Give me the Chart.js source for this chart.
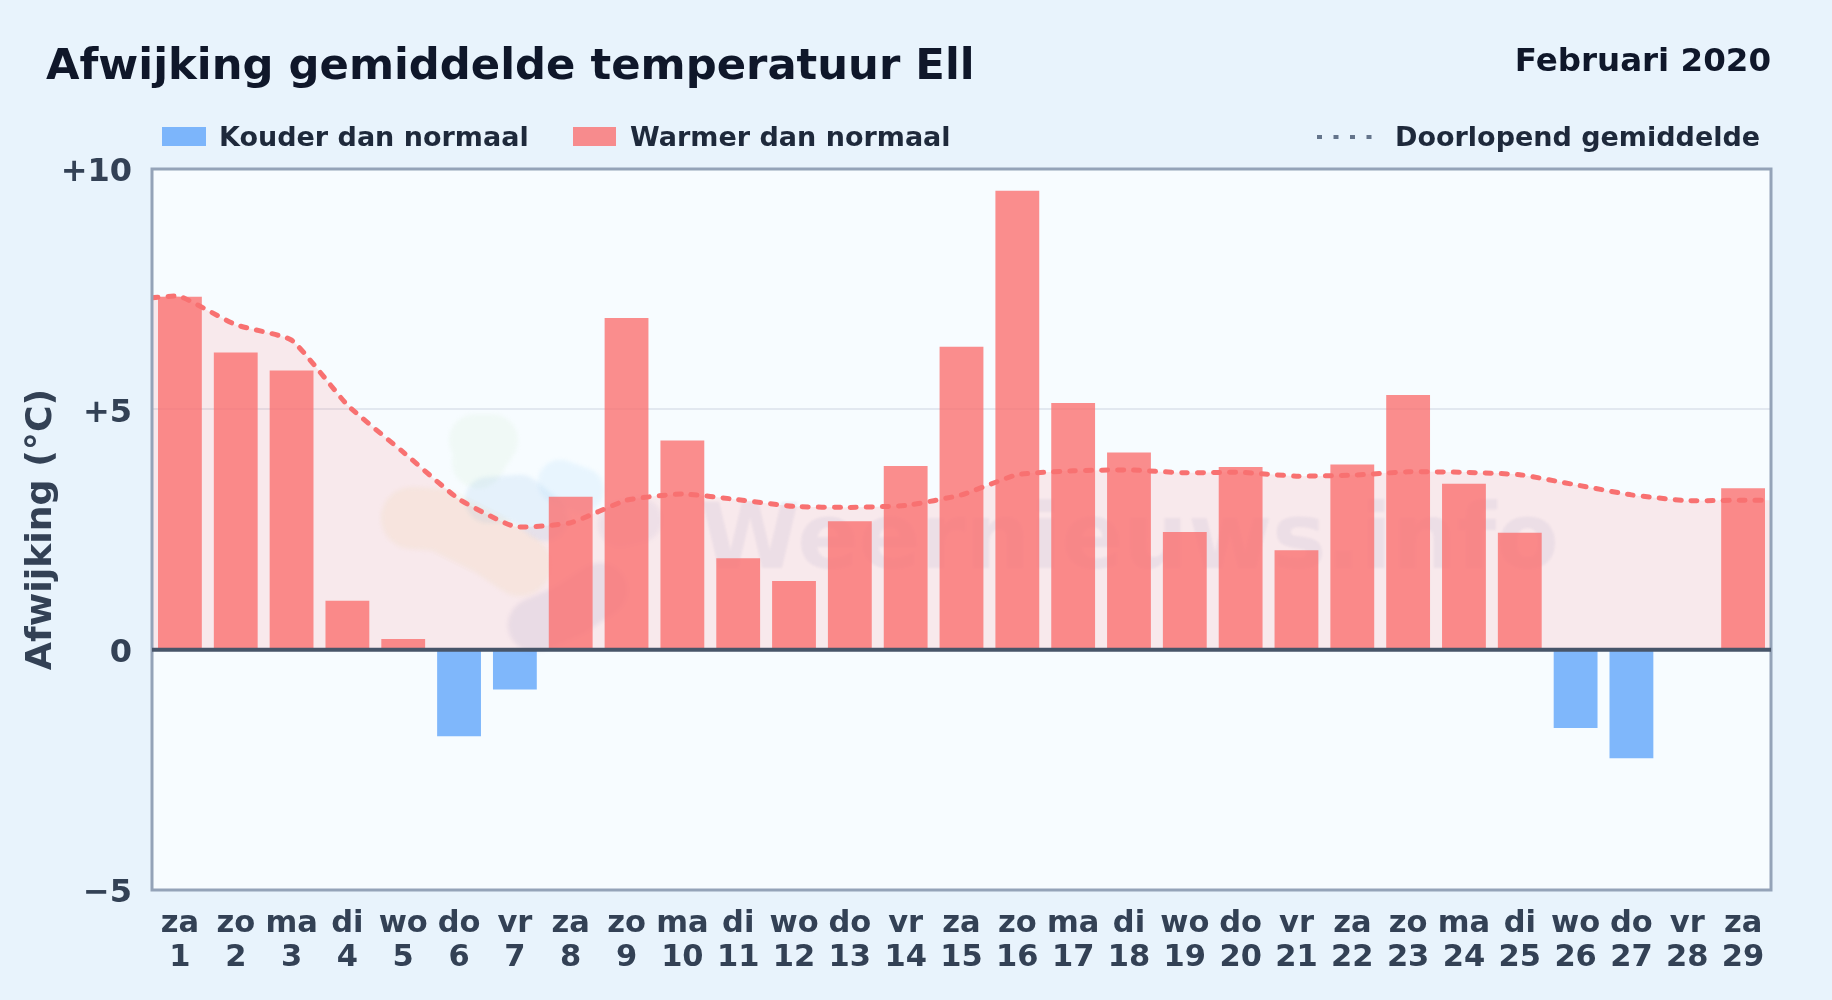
<!DOCTYPE html>
<html>
<head>
<meta charset="utf-8">
<title>Afwijking gemiddelde temperatuur Ell</title>
<script src="https://cdn.jsdelivr.net/npm/chart.js@4"></script>
<style>
html,body{margin:0;padding:0;background:#e8f3fc;}
canvas{display:block;}
</style>
</head>
<body>
<canvas id="grafiek" width="1832" height="1000"></canvas>
<script>
const dagen = ["za","zo","ma","di","wo","do","vr","za","zo","ma","di","wo","do","vr","za","zo","ma","di","wo","do","vr","za","zo","ma","di","wo","do","vr","za"];
const dagNummers = ["1","2","3","4","5","6","7","8","9","10","11","12","13","14","15","16","17","18","19","20","21","22","23","24","25","26","27","28","29"];
const afwijking = [7.34,6.18,5.81,1.02,0.22,-1.8,-0.83,3.18,6.9,4.35,1.9,1.43,2.67,3.82,6.3,9.55,5.13,4.1,2.45,3.8,2.07,3.85,5.3,3.45,2.43,-1.63,-2.26,0,3.36];
const lijnDagen = [0.5,1,2,3,4,5,6,7,8,9,10,11,12,13,14,15,16,17,18,19,20,21,22,23,24,25,26,27,28,29,29.5];
const lijnWaarden = [7.32,7.35,6.76,6.44,5.09,4.11,3.13,2.56,2.64,3.11,3.24,3.12,2.98,2.96,3.0,3.22,3.64,3.72,3.74,3.68,3.69,3.61,3.63,3.7,3.69,3.64,3.43,3.22,3.1,3.11,3.11];
const yTicks = [-5,0,5,10];
const yTickLabels = ["\u22125","0","+5","+10"];

const FONT = '"DejaVu Sans"';
const warmKleur = "rgba(250,113,113,0.8)";
const koudKleur = "rgba(96,165,250,0.8)";

// watermerk onder de balken
const watermerk = {
  id: "watermerk",
  beforeDatasetsDraw(chart) {
    const c = chart.ctx;
    c.save();
    c.lineCap = "round";
    c.lineJoin = "round";
    c.filter = "blur(2px)";
    function blob(kleur, dikte, punten) {
      c.strokeStyle = kleur;
      c.lineWidth = dikte;
      c.beginPath();
      punten.forEach((p, i) => i ? c.lineTo(p[0], p[1]) : c.moveTo(p[0], p[1]));
      c.stroke();
    }
    blob("rgba(190,230,170,0.1)", 52, [[475,440],[492,440],[478,462]]);
    blob("rgba(120,180,225,0.14)", 46, [[488,500],[520,498],[545,518]]);
    blob("rgba(140,205,250,0.14)", 44, [[560,482],[582,490]]);
    blob("rgba(240,200,130,0.13)", 62, [[412,518],[440,520],[490,545],[520,565]]);
    blob("rgba(110,100,170,0.1)", 54, [[535,625],[570,610],[600,590]]);
    blob("rgba(110,100,170,0.07)", 44, [[620,525],[640,520]]);
    c.filter = "blur(1px)";
    c.fillStyle = "rgba(90,90,150,0.07)";
    c.font = "bold 91px " + FONT;
    c.textAlign = "left";
    c.textBaseline = "alphabetic";
    c.fillText("Weernieuws.info", 700, 568);
    c.restore();
  }
};

// titel, legenda, kader en nullijn
const opmaak = {
  id: "opmaak",
  beforeDraw(chart) {
    const c = chart.ctx, a = chart.chartArea;
    c.save();
    c.fillStyle = "#f7fcff";
    c.fillRect(a.left, a.top, a.right - a.left, a.bottom - a.top);
    c.restore();
    // tick labels van de y-as staan iets lager
    if (!chart.$labelsVerschoven) {
      chart.scales.y.getLabelItems(a).forEach(it => { it.textOffset += 4; });
      chart.$labelsVerschoven = true;
    }
  },
  afterDatasetsDraw(chart) {
    const c = chart.ctx, a = chart.chartArea;
    const nul = chart.scales.y.getPixelForValue(0);
    c.save();
    c.strokeStyle = "#94a3b8";
    c.lineWidth = 3;
    c.strokeRect(a.left, a.top, a.right - a.left, a.bottom - a.top);
    c.strokeStyle = "#475569";
    c.lineWidth = 4;
    c.beginPath();
    c.moveTo(a.left, nul);
    c.lineTo(a.right, nul);
    c.stroke();

    c.textBaseline = "alphabetic";
    c.textAlign = "left";
    c.fillStyle = "#0f172a";
    c.font = "bold 43.3px " + FONT;
    c.fillText("Afwijking gemiddelde temperatuur Ell", 46, 79);
    c.textAlign = "right";
    c.font = "bold 32.5px " + FONT;
    c.fillText("Februari 2020", 1771, 71);

    c.textAlign = "left";
    c.textBaseline = "middle";
    c.font = "bold 27px " + FONT;
    c.fillStyle = koudKleur;
    c.fillRect(162, 127, 44, 19);
    c.fillStyle = warmKleur;
    c.fillRect(573, 127, 43, 19);
    c.fillStyle = "#1e293b";
    c.fillText(chart.data.datasets[0].label, 219, 139);
    c.fillText(chart.data.datasets[1].label, 630, 139);
    c.fillText(chart.data.datasets[2].label, 1395, 139);
    c.strokeStyle = "#64748b";
    c.lineWidth = 4;
    c.setLineDash([5, 11.5]);
    c.beginPath();
    c.moveTo(1317, 137);
    c.lineTo(1375, 137);
    c.stroke();
    c.restore();
  }
};

new Chart(document.getElementById("grafiek"), {
  data: {
    labels: dagen.map((d, i) => [d, dagNummers[i]]),
    datasets: [
      {
        type: "bar",
        label: "Kouder dan normaal",
        data: afwijking.map(v => v < 0 ? v : null),
        backgroundColor: koudKleur,
        grouped: false,
        barPercentage: 0.785,
        categoryPercentage: 1,
        order: 2
      },
      {
        type: "bar",
        label: "Warmer dan normaal",
        data: afwijking.map(v => v > 0 ? v : null),
        backgroundColor: warmKleur,
        grouped: false,
        barPercentage: 0.785,
        categoryPercentage: 1,
        order: 2
      },
      {
        type: "line",
        label: "Doorlopend gemiddelde",
        xAxisID: "xLijn",
        data: lijnDagen.map((d, i) => ({x: d, y: lijnWaarden[i]})),
        borderColor: "rgba(248,113,113,1)",
        borderWidth: 5,
        borderDash: [6, 10],
        borderCapStyle: "round",
        backgroundColor: "rgba(255,100,100,0.125)",
        fill: "origin",
        pointRadius: 0,
        tension: 0.15,
        order: 1
      }
    ]
  },
  plugins: [watermerk, opmaak],
  options: {
    responsive: false,
    animation: false,
    devicePixelRatio: 1,
    layout: { padding: { top: 169, right: 61, left: 0, bottom: 0 } },
    plugins: {
      legend: { display: false },
      tooltip: { enabled: false },
      filler: { drawTime: "beforeDatasetsDraw" }
    },
    scales: {
      x: {
        type: "category",
        grid: { display: false },
        border: { display: false },
        ticks: {
          color: "#334155",
          font: { family: FONT, size: 30.5, weight: "bold", lineHeight: 1.11 },
          padding: 9,
          maxRotation: 0,
          autoSkip: false
        },
        afterFit(s) { s.height = 110; }
      },
      xLijn: { type: "linear", display: false, min: 0.5, max: 29.5 },
      y: {
        min: -5,
        max: 10,
        afterBuildTicks(s) { s.ticks = yTicks.map(v => ({value: v})); },
        afterFit(s) { s.width = 152; },
        grid: { color: "#e2e8f0", lineWidth: 2, drawTicks: false },
        border: { display: false },
        ticks: {
          color: "#334155",
          font: { family: FONT, size: 32, weight: "bold" },
          padding: 20,
          callback(v) { return yTickLabels[yTicks.indexOf(v)]; }
        },
        title: {
          display: true,
          text: "Afwijking (\u00b0C)",
          color: "#334155",
          font: { family: FONT, size: 36.3, weight: "bold" },
          padding: { top: 20, bottom: 0 }
        }
      }
    }
  }
});
</script>
</body>
</html>
